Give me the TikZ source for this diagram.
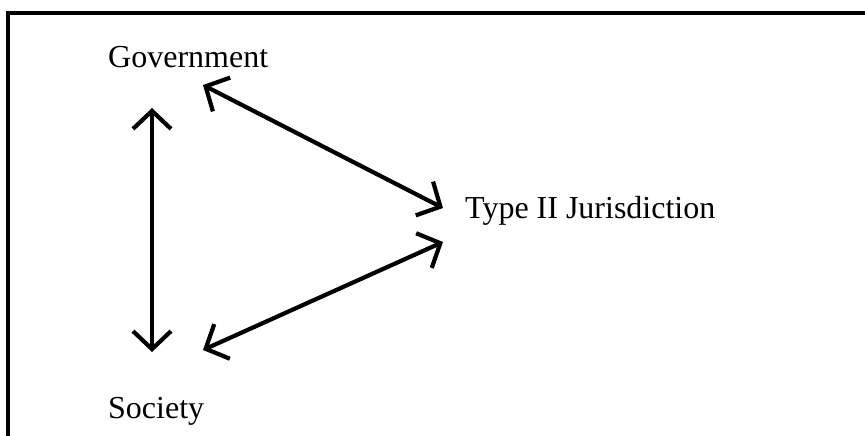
\documentclass[tikz,border=0pt]{standalone}
\usepackage{fontspec}
\setmainfont{Liberation Serif}
\usetikzlibrary{arrows.meta}
\begin{document}
\begin{tikzpicture}[x=1pt,y=-1pt,
  lbl/.style={font=\fontsize{32}{38}\selectfont, inner sep=0pt, anchor=base west},
  tipb/.tip={Straight Barb[length=18pt,width=38pt,line width=4.2pt]},
  conn/.style={line width=4.2pt, tipb-tipb}]
  \useasboundingbox (0,0) rectangle (865,436);
  \fill[white] (0,0) rectangle (865,436);
  \draw[line width=3.2pt] (8,460) -- (8,13) -- (880,13);
  \node[lbl] (gov) at (108,67) {Government};
  \node[lbl] (t2) at (465,218) {Type II Jurisdiction};
  \node[lbl] (soc) at (108,418) {Society};
  \coordinate (gv) at (152,108);
  \coordinate (sv) at (152,352);
  \coordinate (gd) at (203,85);
  \coordinate (td) at (443,208);
  \coordinate (tl) at (443,242);
  \coordinate (sd) at (203,350);
  \draw[conn] (gv) -- (sv);
  \draw[conn] (gd) -- (td);
  \draw[conn] (tl) -- (sd);
\end{tikzpicture}
\end{document}
